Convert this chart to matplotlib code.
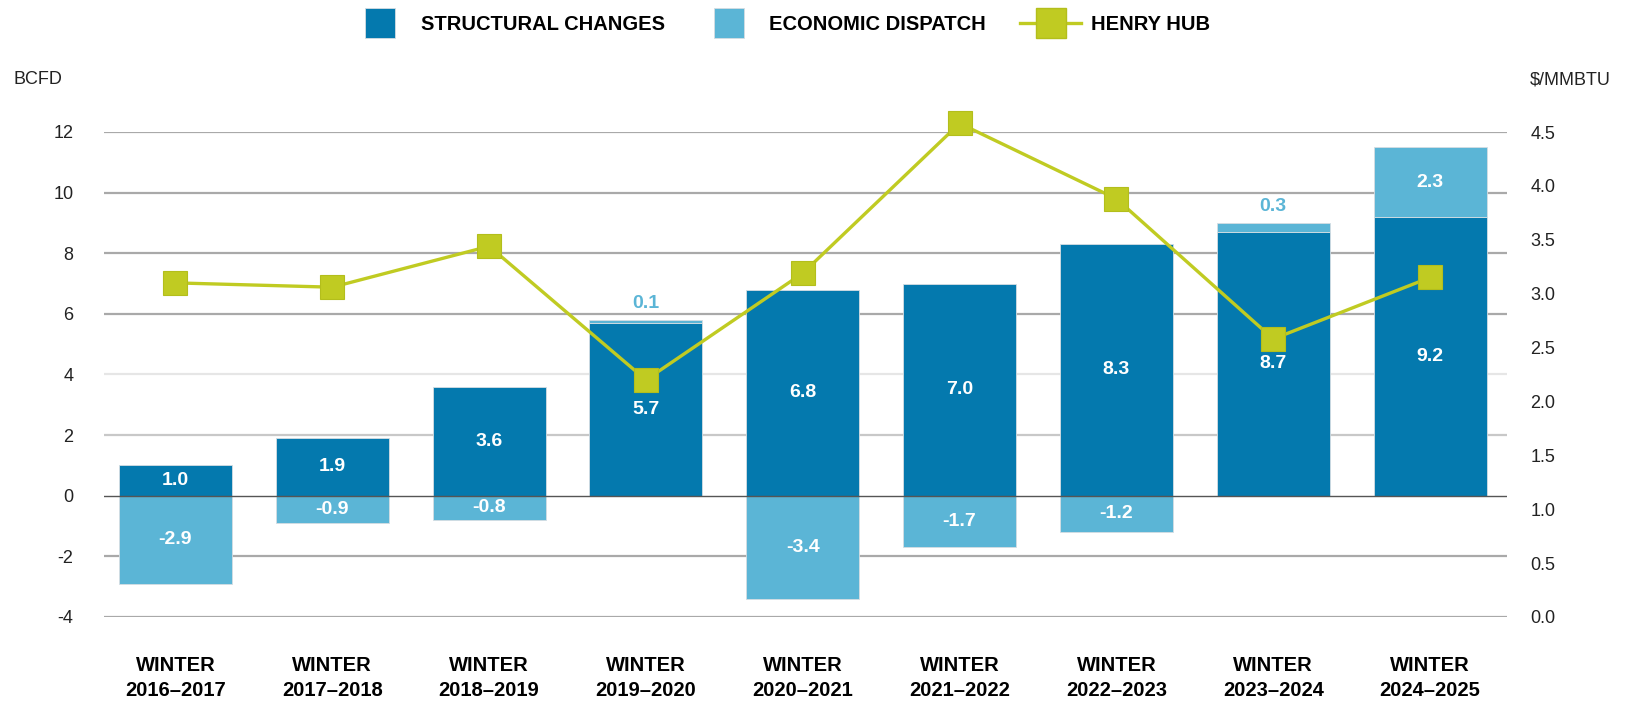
import matplotlib

matplotlib.use("Agg")
import matplotlib.pyplot as plt
from matplotlib.lines import Line2D

plt.rcParams["font.family"] = ["Liberation Sans", "DejaVu Sans"]
plt.rcParams["axes.unicode_minus"] = False

winters = ["2016–2017", "2017–2018", "2018–2019", "2019–2020", "2020–2021",
           "2021–2022", "2022–2023", "2023–2024", "2024–2025"]
structural = [1.0, 1.9, 3.6, 5.7, 6.8, 7.0, 8.3, 8.7, 9.2]
dispatch = [-2.9, -0.9, -0.8, 0.1, -3.4, -1.7, -1.2, 0.3, 2.3]
henry_hub = [3.10, 3.06, 3.44, 2.20, 3.19, 4.58, 3.88, 2.58, 3.15]
left_ticks = [-4, -2, 0, 2, 4, 6, 8, 10, 12]
right_ticks = [0.0, 0.5, 1.0, 1.5, 2.0, 2.5, 3.0, 3.5, 4.0, 4.5]

DARK = "#0479AE"
LIGHT = "#5BB5D6"
GREEN = "#C0CB22"

fig = plt.figure(figsize=(16.5, 7.04), dpi=100)
ax = fig.add_axes([0.063, 0.1236, 0.8503, 0.6889])
x = list(range(len(winters)))
w = 0.72

# gridlines behind bars (the 4 line is drawn lighter in the original)
for t in left_ticks:
    if t == 0:
        continue
    col = "#e6e6e6" if t == 4 else ("#c8c8c8" if t == 2 else "#a9a9a9")
    ax.axhline(t, color=col, lw=1.6, zorder=0)

ax.bar(x, structural, w, color=DARK, edgecolor="#d5dde2", linewidth=0.6, zorder=2)
# dispatch stacks on top when positive, hangs below zero when negative
bottoms = [s if d > 0 else 0 for s, d in zip(structural, dispatch)]
ax.bar(x, dispatch, w, bottom=bottoms, color=LIGHT, edgecolor="#d5dde2",
       linewidth=0.6, zorder=2)
ax.axhline(0, color="#555555", lw=1.0, zorder=3)

lbl = dict(ha="center", fontsize=14, fontweight="bold", zorder=4)
for i, (s, d) in enumerate(zip(structural, dispatch)):
    ax.text(i, s / 2, f"{s:.1f}", va="center", color="white", **lbl)
    if 0 < d < 1:
        ax.text(i, s + d + 0.25, f"{d:.1f}", va="bottom", color=LIGHT, **lbl)
    elif d > 0:
        ax.text(i, s + d / 2, f"{d:.1f}", va="center", color="white", **lbl)
    else:
        ax.text(i, d / 2, f"{d:.1f}", va="center", color="white", **lbl)

ax.set_xlim(-0.456, 8.49)
ax.set_ylim(-4, 12)
ax.set_yticks(left_ticks)
ax.set_xticks(x)
ax.set_xticklabels([f"WINTER\n{wt}" for wt in winters], fontsize=14.5,
                   fontweight="bold", linespacing=1.4)
ax.tick_params(axis="x", length=0, pad=28)
ax.tick_params(axis="y", length=0, pad=22, labelsize=13, labelcolor="#222222")
for sp in ax.spines.values():
    sp.set_visible(False)

ax2 = ax.twinx()
ax2.plot(x, henry_hub, color=GREEN, lw=2.4, marker="s", markersize=17,
         markerfacecolor=GREEN, markeredgecolor="#b3be1c", markeredgewidth=0.8,
         clip_on=False, zorder=5)
ax2.set_ylim(0, 4.5)
ax2.set_yticks(right_ticks)
ax2.set_yticklabels([f"{t:.1f}" for t in right_ticks])
ax2.tick_params(axis="y", length=0, pad=17, labelsize=13, labelcolor="#222222")
for sp in ax2.spines.values():
    sp.set_visible(False)

fig.text(0.008, 1 - 80 / 704, "BCFD", fontsize=13, color="#222222", va="center")
fig.text(0.927, 1 - 80 / 704, "$/MMBTU", fontsize=13, color="#222222", va="center")

handles = [
    Line2D([0], [0], ls="none", marker="s", markersize=21, markerfacecolor=DARK,
           markeredgecolor="#d5dde2", markeredgewidth=0.6),
    Line2D([0], [0], ls="none", marker="s", markersize=21, markerfacecolor=LIGHT,
           markeredgecolor="#d5dde2", markeredgewidth=0.6),
    Line2D([0], [0], color=GREEN, lw=2.4, marker="s", markersize=21,
           markerfacecolor=GREEN, markeredgecolor="#b3be1c"),
]
labels = ["STRUCTURAL CHANGES", "ECONOMIC DISPATCH", "HENRY HUB"]
fig.legend(handles, labels, loc="center", bbox_to_anchor=(780 / 1650, 1 - 25 / 704),
           ncol=3, frameon=False, handlelength=3.0, handletextpad=0.5,
           columnspacing=1.7, prop={"size": 14.5, "weight": "bold"})

fig.savefig("out.png", dpi=100)
